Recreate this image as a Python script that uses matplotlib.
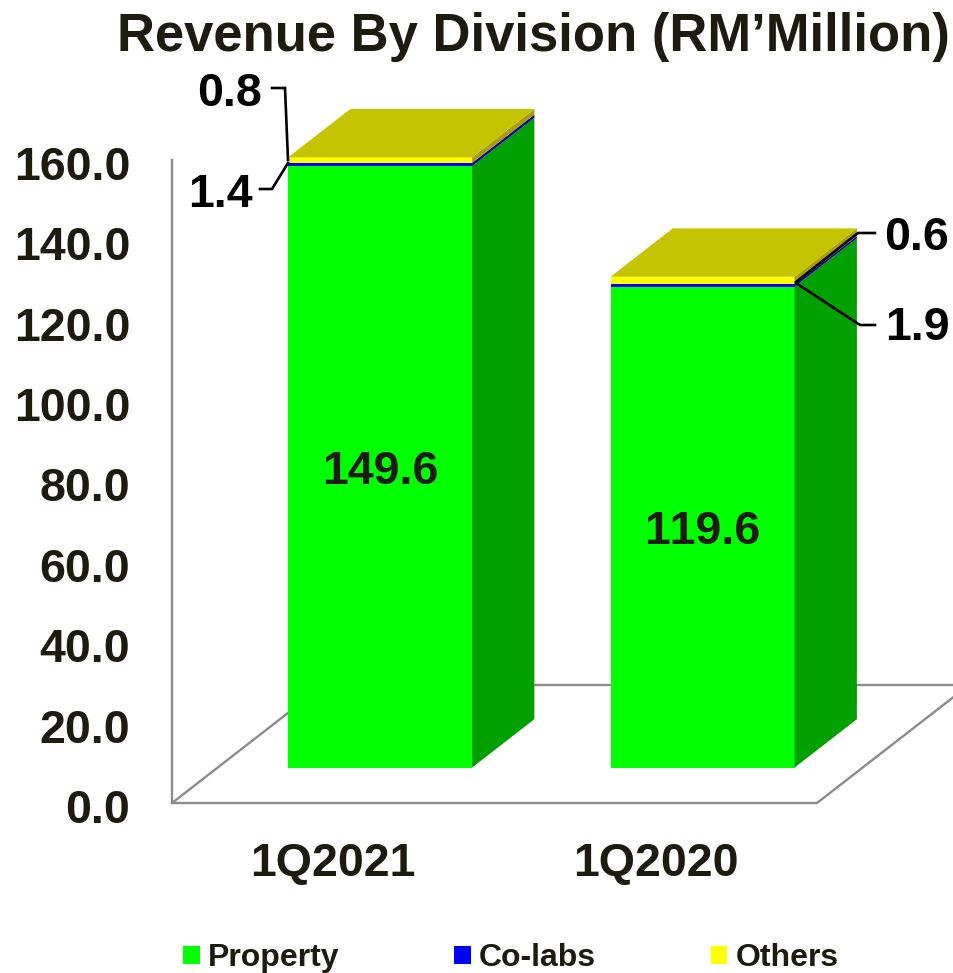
import numpy as np
import matplotlib
matplotlib.use("Agg")
import matplotlib.pyplot as plt
from matplotlib.transforms import ScaledTranslation

plt.rcParams['font.family'] = ['Liberation Sans', 'DejaVu Sans']
plt.rcParams['font.weight'] = 'bold'
plt.rcParams['text.kerning_factor'] = 6

quarters = ["1Q2021", "1Q2020"]
property_rev = np.array([149.6, 119.6])
colabs_rev = np.array([0.8, 0.6])
others_rev = np.array([1.4, 1.9])
yticks = [0, 20, 40, 60, 80, 100, 120, 140, 160]

text_col = "#1d1b10"
grey = "#8c8c8c"

W, H = 954, 973
left_px, floor_px = 172, 803
px_per_x = 322.5
px_per_y = 4.02

# 3d look: how far the floor goes back, and where the bars sit on it
floor_dx = 152 / px_per_x
floor_dy = 118 / px_per_y
bar_front = 0.30
bar_depth = 0.41
bar_w = 184 / px_per_x
bar_shift = 1.2 / px_per_x

def X(px):
    return -0.5 + (px - left_px) / px_per_x

def Y(py):
    return (floor_px - py) / px_per_y

fig = plt.figure(figsize=(W / 100, H / 100), dpi=100)
ax = fig.add_axes([left_px / W, (H - floor_px) / H, (W - left_px) / W, floor_px / H])
ax.set_xlim(-0.5, X(W))
ax.set_ylim(0, Y(0))
ax.patch.set_visible(False)

for s in ["top", "right"]:
    ax.spines[s].set_visible(False)
for s in ["left", "bottom"]:
    ax.spines[s].set_color(grey)
    ax.spines[s].set_linewidth(1.7)
ax.spines["left"].set_bounds(0, 160)
ax.spines["bottom"].set_bounds(-0.5, 1.5)

x = np.arange(len(quarters))
ax.set_xticks(x, quarters)
ax.set_yticks(yticks, ["%.1f" % v for v in yticks])
ax.tick_params(axis="x", length=0, pad=28, labelsize=33.5, labelcolor=text_col)
ax.tick_params(axis="y", length=0, pad=30, labelsize=33.5, labelcolor=text_col)

# y labels sit a little under their gridline position
shift = ScaledTranslation(0, -3 / 100, fig.dpi_scale_trans)
for lab in ax.get_yticklabels():
    lab.set_transform(lab.get_transform() + shift)

# floor outline
ax.plot([-0.5, -0.5 + floor_dx], [0, floor_dy], color=grey, lw=1.7, zorder=1)
ax.plot([1.5, 1.5 + floor_dx], [0, floor_dy], color=grey, lw=1.7, zorder=1)
ax.plot([-0.5 + floor_dx, 1.5 + floor_dx], [floor_dy, floor_dy], color=grey, lw=1.7, zorder=1)

bx = x + floor_dx * bar_front + bar_shift
base = floor_dy * bar_front
ddx = floor_dx * bar_depth
ddy = floor_dy * bar_depth

series = [("Property", property_rev, "#00ff00", "#00a000"),
          ("Co-labs", colabs_rev, "#0000ff", "#0000a0"),
          ("Others", others_rev, "#ffff00", "#a8a000")]

bottom = np.full(len(x), base)
handles = []
for name, vals, front, side in series:
    b = ax.bar(bx, vals, bar_w, bottom=bottom, color=front, label=name, zorder=3, linewidth=0)
    handles.append(b)
    for i in range(len(x)):
        xr = bx[i] + bar_w / 2
        y0 = bottom[i]
        y1 = y0 + vals[i]
        ax.fill([xr, xr + ddx, xr + ddx, xr], [y0, y0 + ddy, y1 + ddy, y1], color=side, lw=0, zorder=3)
    bottom = bottom + vals

# top of the stack
for i in range(len(x)):
    xl = bx[i] - bar_w / 2
    xr = bx[i] + bar_w / 2
    ax.fill([xl, xr, xr + ddx, xl + ddx], [bottom[i], bottom[i], bottom[i] + ddy, bottom[i] + ddy],
            color="#c4c400", lw=0, zorder=3)

# big labels in the middle of the green part
for i in range(len(x)):
    ax.text(bx[i], base + property_rev[i] / 2 - 1.2, "%.1f" % property_rev[i], ha="center", va="center",
            fontsize=33.5, color=text_col, zorder=5)

# leader lines for the thin segments
def leader(xs, ys):
    ax.plot([X(p) for p in xs], [Y(p) for p in ys], color="black", lw=1.9, zorder=6,
            clip_on=False, solid_joinstyle="miter")

def small_label(px, py, val):
    ax.text(X(px), Y(py), "%.1f" % val, ha="center", va="center", fontsize=33.5,
            color="black", zorder=6, clip_on=False)

leader([272, 285, 288], [88, 88, 160])
leader([260, 272, 288], [189, 189, 163])
leader([875, 858, 796], [233, 233, 282])
leader([875, 860, 796], [325, 325, 283])
small_label(230, 94, colabs_rev[0])
small_label(220, 195, others_rev[0])
small_label(916, 238, colabs_rev[1])
small_label(917, 328, others_rev[1])

fig.text(533 / W, 1 - 37 / H, "Revenue By Division (RM\u2019Million)", ha="center", va="center",
         fontsize=37.9, color=text_col)

ax.legend(handles=handles, loc="lower left", bbox_to_anchor=(183 / W, 0), bbox_transform=fig.transFigure,
          ncol=3, frameon=False, fontsize=23, handlelength=0.52, handleheight=0.5, handletextpad=0.25,
          columnspacing=3.6, borderpad=0, borderaxespad=0, labelcolor=text_col)

fig.savefig("out.png", dpi=100)
